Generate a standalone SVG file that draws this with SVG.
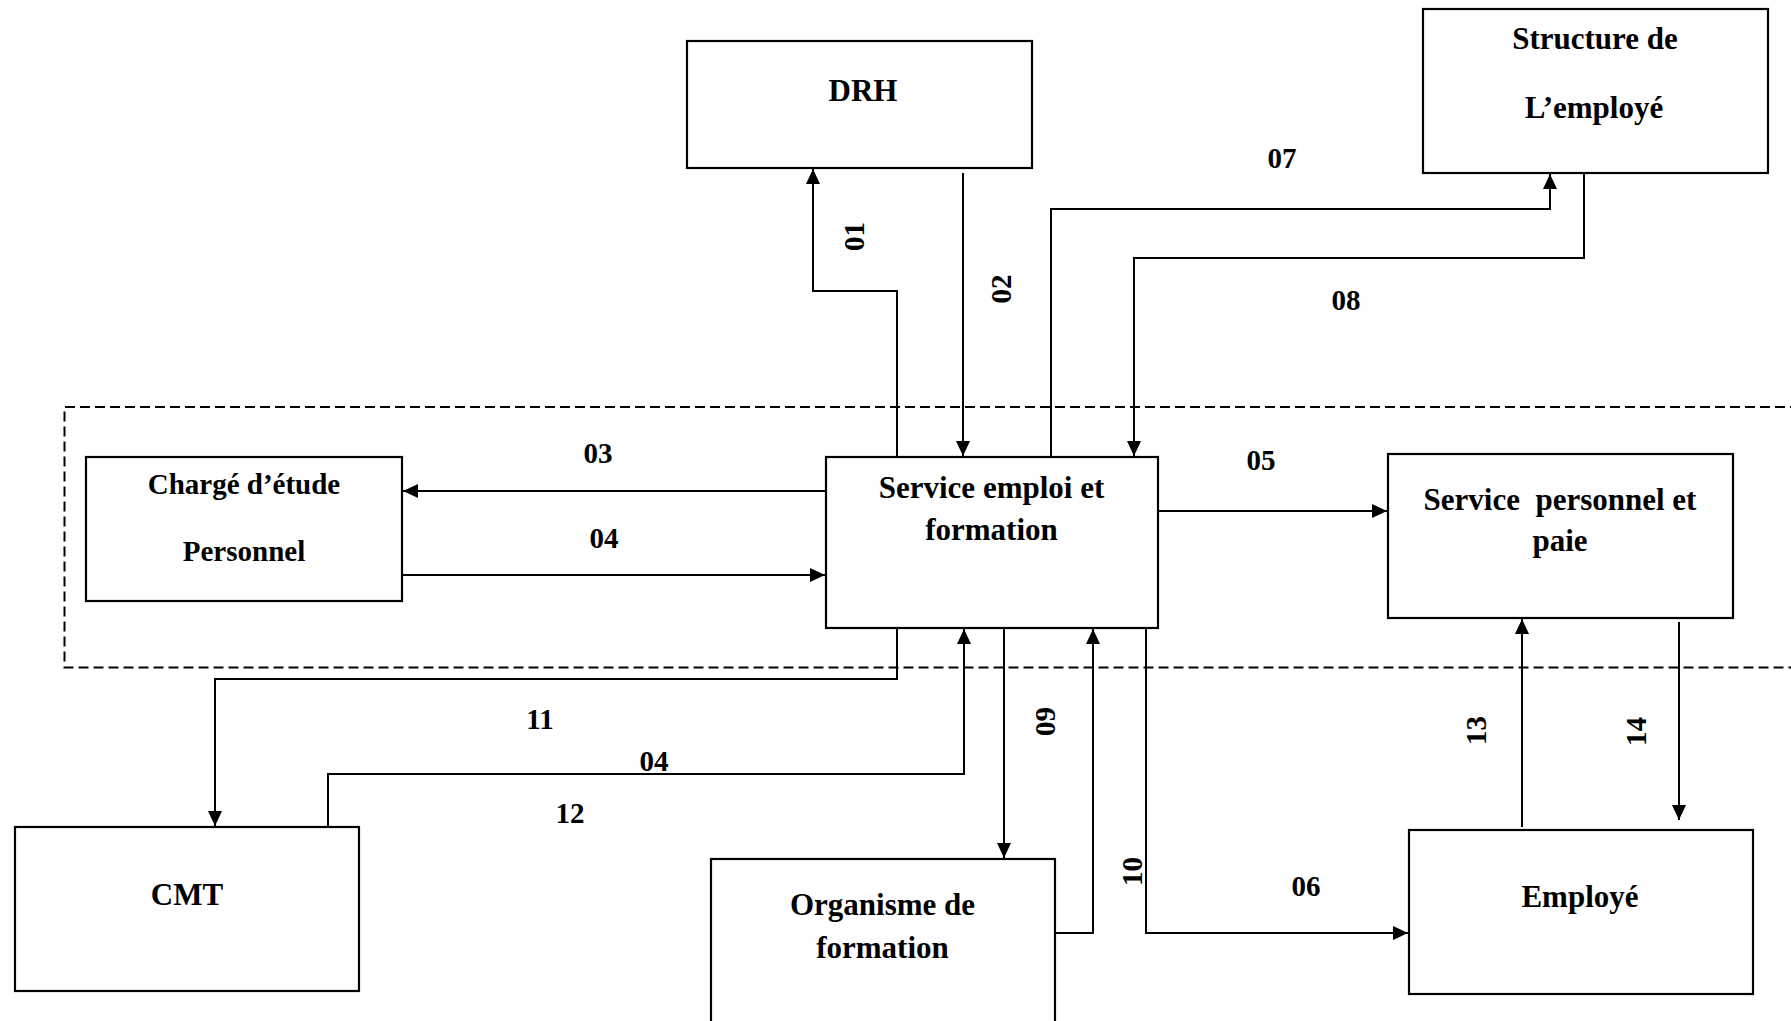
<svg xmlns="http://www.w3.org/2000/svg" width="1791" height="1021" viewBox="0 0 1791 1021">
  <style>
    .box { fill: #ffffff; stroke: #000000; stroke-width: 2.2; }
    .name { font-family: "Liberation Serif", "Times New Roman", serif; font-weight: bold; font-size: 31px; fill: #000000; text-anchor: middle; }
    .lbl { font-family: "Liberation Serif", "Times New Roman", serif; font-weight: bold; font-size: 29px; fill: #000000; text-anchor: middle; }
    .flow { fill: none; stroke: #000000; stroke-width: 2; }
    .arrow { fill: none; stroke: #000000; stroke-width: 2; marker-end: url(#head); }
    .boundary { fill: none; stroke: #000000; stroke-width: 2; stroke-dasharray: 10 5; }
  </style>
  <defs>
    <marker id="head" markerUnits="userSpaceOnUse" markerWidth="16" markerHeight="14" refX="15" refY="7" orient="auto">
      <path d="M0,0 L15,7 L0,14 Z" fill="#000000"/>
    </marker>
  </defs>

  <rect width="1791" height="1021" fill="#ffffff"/>

  <!-- boundary of the studied domain -->
  <path class="boundary" d="M1800,407 H64.5 V667.5 H1800"/>

  <!-- flows -->
  <g id="connectors">
    <path class="arrow" d="M897,457 V291 H813 V169"/>
    <path class="arrow" d="M963,173 V456"/>
    <path class="arrow" d="M1051,457 V209 H1550 V174"/>
    <path class="arrow" d="M1584,173 V258 H1134 V456"/>
    <path class="arrow" d="M826,491 H403"/>
    <path class="arrow" d="M402,575 H825"/>
    <path class="arrow" d="M1158,511 H1387"/>
    <path class="arrow" d="M897,628 V679 H215 V826"/>
    <path class="arrow" d="M328,830 V774 H964 V629"/>
    <path class="arrow" d="M1004,628 V858"/>
    <path class="arrow" d="M1055,933 H1093 V629"/>
    <path class="arrow" d="M1146,628 V933 H1408"/>
    <path class="arrow" d="M1522,827 V619"/>
    <path class="arrow" d="M1679,622 V820"/>

    <text class="lbl" x="598" y="463">03</text>
    <text class="lbl" x="604" y="548">04</text>
    <text class="lbl" x="1261" y="470">05</text>
    <text class="lbl" x="1282" y="168">07</text>
    <text class="lbl" x="1346" y="310">08</text>
    <text class="lbl" x="1306" y="896">06</text>
    <text class="lbl" x="540" y="729">11</text>
    <text class="lbl" x="654" y="771">04</text>
    <text class="lbl" x="570" y="823">12</text>
    <text class="lbl" transform="translate(854,236.5) rotate(-90)" y="10">01</text>
    <text class="lbl" transform="translate(1001,289) rotate(-90)" y="10">02</text>
    <text class="lbl" transform="translate(1045,721.5) rotate(-90)" y="10">09</text>
    <text class="lbl" transform="translate(1132,871.5) rotate(-90)" y="10">10</text>
    <text class="lbl" transform="translate(1475.5,730.5) rotate(-90)" y="10">13</text>
    <text class="lbl" transform="translate(1636,731.5) rotate(-90)" y="10">14</text>
  </g>

  <!-- actors -->
  <g id="drh">
    <rect class="box" x="687" y="41" width="345" height="127"/>
    <text class="name" x="863" y="101">DRH</text>
  </g>

  <g id="structure-employe">
    <rect class="box" x="1423" y="9" width="345" height="164"/>
    <text class="name" x="1595" y="49">Structure de</text>
    <text class="name" x="1594" y="118">L’employé</text>
  </g>

  <g id="charge-etude">
    <rect class="box" x="86" y="457" width="316" height="144"/>
    <text class="name" x="244" y="494" style="font-size:29px">Chargé d’étude</text>
    <text class="name" x="244" y="561" style="font-size:29px">Personnel</text>
  </g>

  <g id="service-emploi-formation">
    <rect class="box" x="826" y="457" width="332" height="171"/>
    <text class="name" x="991.5" y="498">Service emploi et</text>
    <text class="name" x="991.5" y="540">formation</text>
  </g>

  <g id="service-personnel-paie">
    <rect class="box" x="1388" y="454" width="345" height="164"/>
    <text class="name" x="1560" y="510" xml:space="preserve">Service  personnel et</text>
    <text class="name" x="1560" y="551">paie</text>
  </g>

  <g id="cmt">
    <rect class="box" x="15" y="827" width="344" height="164"/>
    <text class="name" x="187" y="905">CMT</text>
  </g>

  <g id="organisme-formation">
    <rect class="box" x="711" y="859" width="344" height="175"/>
    <text class="name" x="882.5" y="915">Organisme de</text>
    <text class="name" x="882.5" y="958">formation</text>
  </g>

  <g id="employe">
    <rect class="box" x="1409" y="830" width="344" height="164"/>
    <text class="name" x="1580" y="907">Employé</text>
  </g>
</svg>
